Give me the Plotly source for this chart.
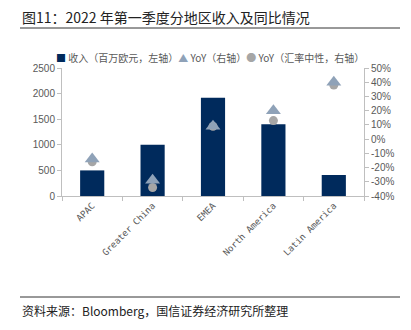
import plotly.graph_objects as go

regions = ["APAC", "Greater China", "EMEA", "North America", "Latin America"]
revenue = [500, 1000, 1920, 1400, 410]
yoy = [-14, -29, 9, 20, 40]
yoy_cn = [-16, -34, 9, 13, 38]
left_ticks = [0, 500, 1000, 1500, 2000, 2500]
right_ticks = [-40, -30, -20, -10, 0, 10, 20, 30, 40, 50]
series_names = ["收入（百万欧元，左轴）", "YoY（右轴）", "YoY（汇率中性，右轴）"]

NAVY = "#002a5c"
TRI = "#8fa2b8"
CIR = "#a6a6a6"
AX = "#bfbfbf"
TXT = "#595959"
CJK = "Noto Sans CJK SC"

fig = go.Figure()
fig.add_trace(go.Bar(x=regions, y=revenue, name=series_names[0],
                     marker=dict(color=NAVY, line=dict(width=0)), width=0.4))
fig.add_trace(go.Scatter(x=regions, y=yoy_cn, name=series_names[2], mode="markers",
                         yaxis="y2", marker=dict(symbol="circle", size=9, color=CIR)))
fig.add_trace(go.Scatter(x=regions, y=yoy, name=series_names[1], mode="markers",
                         yaxis="y2", marker=dict(symbol="triangle-up", size=13, color=TRI)))

fig.update_layout(
    width=411, height=330,
    margin=dict(l=62, r=47, t=68, b=134),
    paper_bgcolor="white", plot_bgcolor="white",
    font=dict(family="Liberation Sans, " + CJK, size=10, color=TXT),
    showlegend=False,
    xaxis=dict(type="category", showline=True, linecolor=AX, linewidth=1,
               ticks="outside", tickson="boundaries", ticklen=4, tickcolor=AX,
               tickangle=-45, tickfont=dict(family="DejaVu Sans Mono", size=9, color=TXT),
               showgrid=False, zeroline=False),
    yaxis=dict(range=[0, 2500], tickvals=left_ticks, showline=True, linecolor=AX, linewidth=1,
               ticks="outside", ticklen=4, tickcolor=AX, showgrid=False, zeroline=False,
               tickfont=dict(family="Liberation Sans", size=10, color=TXT)),
    yaxis2=dict(range=[-40, 50], tickvals=right_ticks, ticktext=[f"{v}%" for v in right_ticks],
                overlaying="y", side="right", showline=True, linecolor=AX, linewidth=1,
                ticks="outside", ticklen=4, tickcolor=AX, showgrid=False, zeroline=False,
                tickfont=dict(family="Liberation Sans", size=10, color=TXT)),
)

def px(xp):
    return (xp - 62) / 302

def py(yp):
    return (196 - yp) / 128

legend_html = (
    f"<span style='color:{NAVY}'>■</span> {series_names[0]}"
    f"<span style='color:{TRI}'>▲</span> {series_names[1]}"
    f"<span style='color:{CIR}'>●</span> {series_names[2]}"
)
fig.add_annotation(text=legend_html, xref="paper", yref="paper",
                   x=px(210), y=py(57), xanchor="center", yanchor="middle", showarrow=False,
                   font=dict(family=CJK, size=10, color=TXT))

fig.add_annotation(text="图11：2022 年第一季度分地区收入及同比情况", xref="paper", yref="paper",
                   x=px(20), y=py(17), xanchor="left", yanchor="middle", showarrow=False,
                   font=dict(family=CJK, size=14, color="#222222"))
fig.add_annotation(text="资料来源：Bloomberg，国信证券经济研究所整理", xref="paper", yref="paper",
                   x=px(20), y=py(310), xanchor="left", yanchor="middle", showarrow=False,
                   font=dict(family=CJK, size=12, color="#222222"))
for yy in (28, 297):
    fig.add_shape(type="line", xref="paper", yref="paper", x0=px(20), x1=px(400),
                  y0=py(yy), y1=py(yy), line=dict(color="#333333", width=1))

fig.write_html("out.html")
